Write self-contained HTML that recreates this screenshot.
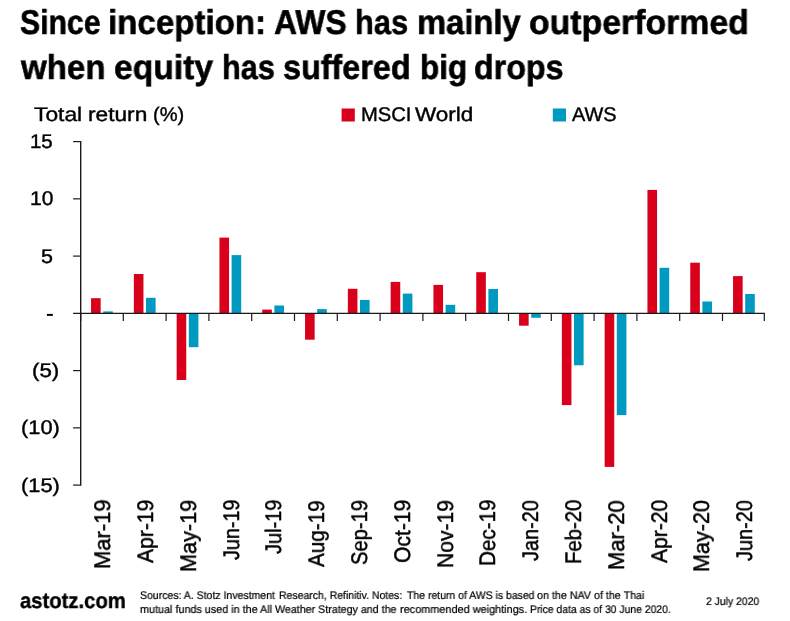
<!DOCTYPE html>
<html><head><meta charset="utf-8"><title>AWS vs MSCI World</title>
<style>
html,body{margin:0;padding:0;background:#fff;}
body{width:790px;height:621px;position:relative;overflow:hidden;font-family:"Liberation Sans",sans-serif;color:#000;}
.t{position:absolute;white-space:nowrap;line-height:1;transform-origin:0 0;will-change:transform;text-rendering:geometricPrecision;}
svg{position:absolute;left:0;top:0;}
.b{font-weight:bold;-webkit-text-stroke:0.017em #000;}
.n{-webkit-text-stroke:0.02em #000;}
</style></head><body>

<svg width="790" height="621" viewBox="0 0 790 621">
<rect x="91.05" y="298.20" width="9.6" height="15.10" fill="#D9001B"/>
<rect x="103.20" y="311.40" width="9.6" height="1.90" fill="#0099BF"/>
<rect x="133.85" y="274.00" width="9.6" height="39.30" fill="#D9001B"/>
<rect x="146.00" y="297.80" width="9.6" height="15.50" fill="#0099BF"/>
<rect x="176.65" y="313.30" width="9.6" height="66.70" fill="#D9001B"/>
<rect x="188.80" y="313.30" width="9.6" height="33.90" fill="#0099BF"/>
<rect x="219.45" y="237.60" width="9.6" height="75.70" fill="#D9001B"/>
<rect x="231.60" y="255.10" width="9.6" height="58.20" fill="#0099BF"/>
<rect x="262.25" y="309.60" width="9.6" height="3.70" fill="#D9001B"/>
<rect x="274.40" y="305.50" width="9.6" height="7.80" fill="#0099BF"/>
<rect x="305.05" y="313.30" width="9.6" height="26.40" fill="#D9001B"/>
<rect x="317.20" y="309.10" width="9.6" height="4.20" fill="#0099BF"/>
<rect x="347.85" y="288.80" width="9.6" height="24.50" fill="#D9001B"/>
<rect x="360.00" y="299.90" width="9.6" height="13.40" fill="#0099BF"/>
<rect x="390.65" y="281.90" width="9.6" height="31.40" fill="#D9001B"/>
<rect x="402.80" y="293.60" width="9.6" height="19.70" fill="#0099BF"/>
<rect x="433.45" y="284.90" width="9.6" height="28.40" fill="#D9001B"/>
<rect x="445.60" y="304.80" width="9.6" height="8.50" fill="#0099BF"/>
<rect x="476.25" y="272.20" width="9.6" height="41.10" fill="#D9001B"/>
<rect x="488.40" y="289.00" width="9.6" height="24.30" fill="#0099BF"/>
<rect x="519.05" y="313.30" width="9.6" height="12.40" fill="#D9001B"/>
<rect x="531.20" y="313.30" width="9.6" height="4.50" fill="#0099BF"/>
<rect x="561.85" y="313.30" width="9.6" height="91.80" fill="#D9001B"/>
<rect x="574.00" y="313.30" width="9.6" height="52.00" fill="#0099BF"/>
<rect x="604.65" y="313.30" width="9.6" height="153.60" fill="#D9001B"/>
<rect x="616.80" y="313.30" width="9.6" height="101.80" fill="#0099BF"/>
<rect x="647.45" y="189.90" width="9.6" height="123.40" fill="#D9001B"/>
<rect x="659.60" y="267.80" width="9.6" height="45.50" fill="#0099BF"/>
<rect x="690.25" y="262.70" width="9.6" height="50.60" fill="#D9001B"/>
<rect x="702.40" y="301.50" width="9.6" height="11.80" fill="#0099BF"/>
<rect x="733.05" y="276.10" width="9.6" height="37.20" fill="#D9001B"/>
<rect x="745.20" y="294.00" width="9.6" height="19.30" fill="#0099BF"/>
<rect x="341.6" y="108.5" width="13.2" height="13" fill="#D9001B"/>
<rect x="552.8" y="108.5" width="13.2" height="13" fill="#0099BF"/>
<g stroke="#1a1a1a" fill="none">
<line x1="80.7" y1="141.0" x2="80.7" y2="485.70000000000005" stroke-width="1.4"/>
<line x1="73.1" y1="141.60" x2="80.5" y2="141.60" stroke-width="1.2"/>
<line x1="73.1" y1="198.85" x2="80.5" y2="198.85" stroke-width="1.2"/>
<line x1="73.1" y1="256.10" x2="80.5" y2="256.10" stroke-width="1.2"/>
<line x1="73.1" y1="370.60" x2="80.5" y2="370.60" stroke-width="1.2"/>
<line x1="73.1" y1="427.85" x2="80.5" y2="427.85" stroke-width="1.2"/>
<line x1="73.1" y1="485.10" x2="80.5" y2="485.10" stroke-width="1.2"/>
<line x1="73.1" y1="313.3" x2="764.9" y2="313.3" stroke-width="1.2"/>
<line x1="80.70" y1="313.3" x2="80.70" y2="321" stroke-width="1.2"/>
<line x1="123.30" y1="313.3" x2="123.30" y2="321" stroke-width="1.2"/>
<line x1="166.10" y1="313.3" x2="166.10" y2="321" stroke-width="1.2"/>
<line x1="208.90" y1="313.3" x2="208.90" y2="321" stroke-width="1.2"/>
<line x1="251.70" y1="313.3" x2="251.70" y2="321" stroke-width="1.2"/>
<line x1="294.50" y1="313.3" x2="294.50" y2="321" stroke-width="1.2"/>
<line x1="337.30" y1="313.3" x2="337.30" y2="321" stroke-width="1.2"/>
<line x1="380.10" y1="313.3" x2="380.10" y2="321" stroke-width="1.2"/>
<line x1="422.90" y1="313.3" x2="422.90" y2="321" stroke-width="1.2"/>
<line x1="465.70" y1="313.3" x2="465.70" y2="321" stroke-width="1.2"/>
<line x1="508.50" y1="313.3" x2="508.50" y2="321" stroke-width="1.2"/>
<line x1="551.30" y1="313.3" x2="551.30" y2="321" stroke-width="1.2"/>
<line x1="594.10" y1="313.3" x2="594.10" y2="321" stroke-width="1.2"/>
<line x1="636.90" y1="313.3" x2="636.90" y2="321" stroke-width="1.2"/>
<line x1="679.70" y1="313.3" x2="679.70" y2="321" stroke-width="1.2"/>
<line x1="722.50" y1="313.3" x2="722.50" y2="321" stroke-width="1.2"/>
<line x1="764.30" y1="313.3" x2="764.30" y2="321" stroke-width="1.2"/>
</g>
<rect x="46.9" y="313.9" width="5.9" height="2" fill="#000"/>
</svg>
<div class="t b" style="left:19.77px;top:6px;font-size:34.4px;transform:scaleX(0.8774)">Since</div>
<div class="t b" style="left:108.33px;top:6px;font-size:34.4px;transform:scaleX(0.9627)">inception:</div>
<div class="t b" style="left:273.75px;top:6px;font-size:34.4px;transform:scaleX(0.9266)">AWS</div>
<div class="t b" style="left:355.47px;top:6px;font-size:34.4px;transform:scaleX(0.8956)">has</div>
<div class="t b" style="left:416.86px;top:6px;font-size:34.4px;transform:scaleX(0.9521)">mainly</div>
<div class="t b" style="left:528.64px;top:6px;font-size:34.4px;transform:scaleX(0.9832)">outperformed</div>
<div class="t b" style="left:21.41px;top:51px;font-size:34.4px;transform:scaleX(0.9609)">when</div>
<div class="t b" style="left:114.35px;top:51px;font-size:34.4px;transform:scaleX(0.9770)">equity</div>
<div class="t b" style="left:222.48px;top:51px;font-size:34.4px;transform:scaleX(0.8902)">has</div>
<div class="t b" style="left:283.09px;top:51px;font-size:34.4px;transform:scaleX(0.9404)">suffered</div>
<div class="t b" style="left:419.98px;top:51px;font-size:34.4px;transform:scaleX(0.9148)">big</div>
<div class="t b" style="left:473.78px;top:51px;font-size:34.4px;transform:scaleX(0.9363)">drops</div>
<div class="t n" style="left:34.43px;top:106px;font-size:19.8px;transform:scaleX(1.1521)">Total</div>
<div class="t n" style="left:87.72px;top:106px;font-size:19.8px;transform:scaleX(1.1474)">return</div>
<div class="t n" style="left:152.51px;top:106px;font-size:19.8px;transform:scaleX(1.0154)">(%)</div>
<div class="t n" style="left:360.71px;top:106px;font-size:19.8px;transform:scaleX(1.0202)">MSCI</div>
<div class="t n" style="left:415.44px;top:106px;font-size:19.8px;transform:scaleX(1.1381)">World</div>
<div class="t n" style="left:571.98px;top:106px;font-size:19.8px;transform:scaleX(1.0059)">AWS</div>
<div class="t b" style="left:19.68px;top:590px;font-size:21.8px;transform:scaleX(0.9289)">astotz.com</div>
<div class="t n" style="left:140.27px;top:591px;font-size:11.1px;transform:scaleX(0.9471)">Sources: A. Stotz Investment</div>
<div class="t n" style="left:278.52px;top:591px;font-size:11.1px;transform:scaleX(0.9439)">Research, Refinitiv. Notes:</div>
<div class="t n" style="left:406.60px;top:591px;font-size:11.1px;transform:scaleX(0.9425)">The return of AWS is based</div>
<div class="t n" style="left:537.10px;top:591px;font-size:11.1px;transform:scaleX(0.9654)">on the NAV of the Thai</div>
<div class="t n" style="left:140.22px;top:605px;font-size:11.1px;transform:scaleX(0.9734)">mutual funds used in the All</div>
<div class="t n" style="left:274.84px;top:605px;font-size:11.1px;transform:scaleX(0.9626)">Weather Strategy and the</div>
<div class="t n" style="left:400.21px;top:605px;font-size:11.1px;transform:scaleX(0.9825)">recommended weightings.</div>
<div class="t n" style="left:530.03px;top:605px;font-size:11.1px;transform:scaleX(0.9354)">Price data as of 30 June 2020.</div>
<div class="t n" style="left:706.07px;top:597px;font-size:11.1px;transform:scaleX(0.9372)">2 July 2020</div>
<div class="t n" style="left:30.18px;top:133px;font-size:19.8px;transform:scaleX(1.0339)">15</div>
<div class="t n" style="left:29.74px;top:190px;font-size:19.8px;transform:scaleX(1.0631)">10</div>
<div class="t n" style="left:41.19px;top:248px;font-size:19.8px;transform:scaleX(1.0875)">5</div>
<div class="t n" style="left:32.38px;top:362px;font-size:19.8px;transform:scaleX(1.1289)">(5)</div>
<div class="t n" style="left:20.81px;top:419px;font-size:19.8px;transform:scaleX(1.1039)">(10)</div>
<div class="t n" style="left:20.81px;top:477px;font-size:19.8px;transform:scaleX(1.1039)">(15)</div>
<div class="t n" style="left:92.25px;top:569.49px;font-size:22.5px;transform:rotate(-90deg) scale(0.9764,1)">Mar-19</div>
<div class="t n" style="left:135.05px;top:563.21px;font-size:22.5px;transform:rotate(-90deg) scale(0.9379,1)">Apr-19</div>
<div class="t n" style="left:177.85px;top:572.07px;font-size:22.5px;transform:rotate(-90deg) scale(0.9630,1)">May-19</div>
<div class="t n" style="left:220.65px;top:560.29px;font-size:22.5px;transform:rotate(-90deg) scale(0.8791,1)">Jun-19</div>
<div class="t n" style="left:263.45px;top:554.39px;font-size:22.5px;transform:rotate(-90deg) scale(0.8882,1)">Jul-19</div>
<div class="t n" style="left:306.25px;top:566.51px;font-size:22.5px;transform:rotate(-90deg) scale(0.9185,1)">Aug-19</div>
<div class="t n" style="left:349.05px;top:564.90px;font-size:22.5px;transform:rotate(-90deg) scale(0.8961,1)">Sep-19</div>
<div class="t n" style="left:391.85px;top:563.22px;font-size:22.5px;transform:rotate(-90deg) scale(0.9380,1)">Oct-19</div>
<div class="t n" style="left:434.65px;top:567.83px;font-size:22.5px;transform:rotate(-90deg) scale(0.9369,1)">Nov-19</div>
<div class="t n" style="left:477.45px;top:566.40px;font-size:22.5px;transform:rotate(-90deg) scale(0.9169,1)">Dec-19</div>
<div class="t n" style="left:520.25px;top:560.99px;font-size:22.5px;transform:rotate(-90deg) scale(0.8857,1)">Jan-20</div>
<div class="t n" style="left:563.05px;top:564.48px;font-size:22.5px;transform:rotate(-90deg) scale(0.9030,1)">Feb-20</div>
<div class="t n" style="left:605.85px;top:569.79px;font-size:22.5px;transform:rotate(-90deg) scale(0.9782,1)">Mar-20</div>
<div class="t n" style="left:648.65px;top:563.21px;font-size:22.5px;transform:rotate(-90deg) scale(0.9362,1)">Apr-20</div>
<div class="t n" style="left:691.45px;top:572.06px;font-size:22.5px;transform:rotate(-90deg) scale(0.9593,1)">May-20</div>
<div class="t n" style="left:734.25px;top:560.99px;font-size:22.5px;transform:rotate(-90deg) scale(0.8857,1)">Jun-20</div>
</body></html>
